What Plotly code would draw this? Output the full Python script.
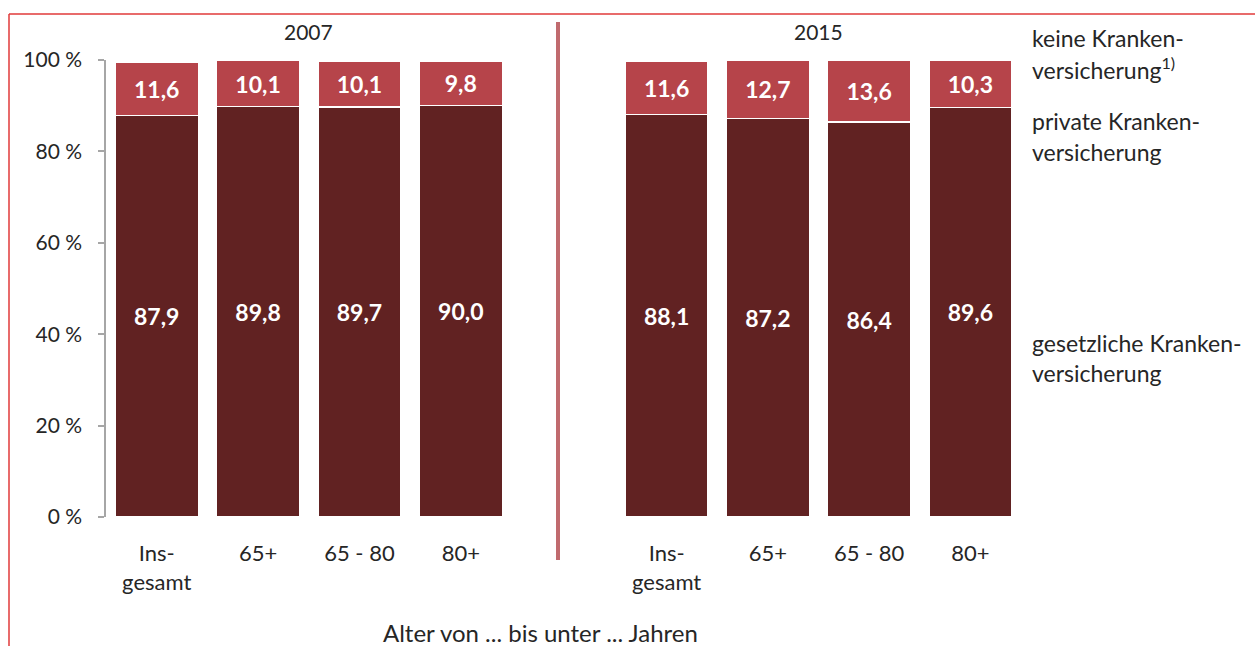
import plotly.graph_objects as go

W, H = 1255, 646
categories = ["Ins-<br>gesamt", "65+", "65 - 80", "80+"]
years = ["2007", "2015"]
gesetzlich_2007 = [87.9, 89.8, 89.7, 90.0]
privat_2007 = [11.6, 10.1, 10.1, 9.8]
gesetzlich_2015 = [88.1, 87.2, 86.4, 89.6]
privat_2015 = [11.6, 12.7, 13.6, 10.3]
y_ticks = [0, 20, 40, 60, 80, 100]
y_ticktext = ["0 %", "20 %", "40 %", "60 %", "80 %", "100 %"]

DARK = "#612222"
LIGHT = "#b6444a"
FONT = "Lato"
TXT = "#262626"

def px(x):
    return x / W

def py(y):
    return 1 - y / H

fig = go.Figure()
for i, (g, p) in enumerate([(gesetzlich_2007, privat_2007), (gesetzlich_2015, privat_2015)]):
    xa = "x" if i == 0 else "x2"
    ya = "y" if i == 0 else "y2"
    for vals, col in [(g, DARK), (p, LIGHT)]:
        fig.add_trace(go.Bar(
            x=categories, y=vals, xaxis=xa, yaxis=ya,
            marker=dict(color=col, line=dict(color="white", width=1.5)),
            width=0.82,
            texttemplate="%{y:.1f}", textposition="inside", insidetextanchor="middle",
            textfont=dict(family=FONT, size=23, color="white", weight="bold"),
            showlegend=False, hoverinfo="skip",
        ))

y_dom = [py(517), py(60)]
xaxis_common = dict(
    type="category", showline=False, showgrid=False, zeroline=False,
    ticks="outside", ticklen=17, tickcolor="rgba(0,0,0,0)",
    tickfont=dict(family=FONT, size=22, color=TXT),
    range=[-0.5, 3.5], fixedrange=True, automargin=False,
)
fig.update_layout(
    width=W, height=H,
    margin=dict(l=0, r=0, t=0, b=0, autoexpand=False),
    paper_bgcolor="white", plot_bgcolor="white",
    barmode="stack", separators=",.",
    uniformtext=dict(mode="show", minsize=23),
    xaxis=dict(domain=[px(106), px(511.5)], anchor="y", **xaxis_common),
    xaxis2=dict(domain=[px(616), px(1021)], anchor="y2", **xaxis_common),
    yaxis=dict(domain=y_dom, range=[0, 100], anchor="x",
               tickvals=y_ticks, ticktext=y_ticktext,
               showline=True, linecolor="#a6a6a6", linewidth=1.5,
               ticks="outside", ticklen=6, tickcolor="#a6a6a6", tickwidth=1.5,
               ticklabelstandoff=12, automargin=False,
               tickfont=dict(family=FONT, size=21, color=TXT),
               showgrid=False, zeroline=False, fixedrange=True),
    yaxis2=dict(domain=y_dom, range=[0, 100], anchor="x2", matches="y",
                visible=False, showgrid=False, zeroline=False),
)

annotations = []
for xc, yr in [(308, years[0]), (818, years[1])]:
    annotations.append(dict(x=px(xc), y=py(31), xref="paper", yref="paper", text=yr,
                            xanchor="center", yanchor="middle", showarrow=False,
                            font=dict(family=FONT, size=21, color=TXT)))
right_lines = [
    (38, "keine Kranken-"), (68, "versicherung<sup>1)</sup>"),
    (121, "private Kranken-"), (152, "versicherung"),
    (343, "gesetzliche Kranken-"), (373, "versicherung"),
]
for yy, t in right_lines:
    annotations.append(dict(x=px(1030), y=py(yy), xref="paper", yref="paper", text=t,
                            xanchor="left", yanchor="middle", showarrow=False,
                            font=dict(family=FONT, size=23, color=TXT)))
annotations.append(dict(x=px(540), y=py(632), xref="paper", yref="paper",
                        text="Alter von ... bis unter ... Jahren",
                        xanchor="center", yanchor="middle", showarrow=False,
                        font=dict(family=FONT, size=24, color=TXT)))
fig.update_layout(annotations=annotations)

fig.add_shape(type="line", xref="paper", yref="paper", x0=px(558), x1=px(558),
              y0=py(22), y1=py(560), line=dict(color="#c06a6e", width=4))
fig.add_shape(type="line", xref="paper", yref="paper", x0=px(9), x1=1,
              y0=py(14), y1=py(14), line=dict(color="#e03a3a", width=1.5))
fig.add_shape(type="line", xref="paper", yref="paper", x0=px(9), x1=px(9),
              y0=py(14), y1=0, line=dict(color="#e03a3a", width=1.5))

fig.write_html("out.html", config={"displayModeBar": False},
               post_script="document.body.style.margin='0';document.body.style.overflow='hidden';")
